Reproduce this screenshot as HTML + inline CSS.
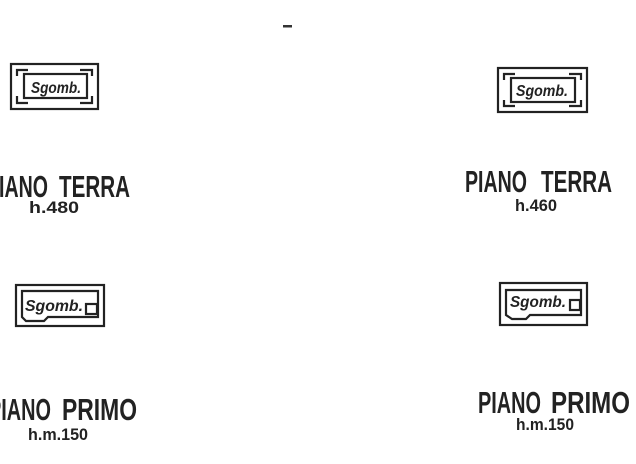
<!DOCTYPE html>
<html><head><meta charset="utf-8"><style>
html,body{margin:0;padding:0;background:#fff;width:636px;height:464px;overflow:hidden}
svg{display:block}
text{font-family:"Liberation Sans Narrow","Liberation Sans",sans-serif;font-weight:bold;fill:#222}
.s{font-style:italic}
</style></head><body>
<svg width="636" height="464" viewBox="0 0 636 464" xmlns="http://www.w3.org/2000/svg">
<rect x="283" y="25" width="9" height="2.5" fill="#333"/>
<g fill="none" stroke="#222" stroke-width="2.2">
<rect x="11" y="64" width="87" height="45"/>
<path d="M17 76 V70 H28 M92 76 V70 H80 M17 96 V103 H28 M92 96 V103 H80"/>
<rect x="24" y="74" width="63" height="24"/>
</g>
<text class="s" x="31" y="93" font-size="16" textLength="50" lengthAdjust="spacingAndGlyphs">Sgomb.</text>
<g fill="none" stroke="#222" stroke-width="2.2">
<rect x="498" y="68" width="89" height="44"/>
<path d="M504 80 V74 H515 M581 80 V74 H569 M504 100 V106 H515 M581 100 V106 H569"/>
<rect x="511" y="78" width="64" height="24"/>
</g>
<text class="s" x="516" y="96" font-size="16" textLength="52" lengthAdjust="spacingAndGlyphs">Sgomb.</text>
<g fill="none" stroke="#222" stroke-width="2.2">
<rect x="16" y="285" width="88" height="41"/>
<path d="M22 291 H98 V317 H48 L44 321 H26 L22 317 Z"/>
<rect x="86" y="304" width="11" height="10"/>
</g>
<text class="s" x="25" y="311" font-size="16" textLength="58" lengthAdjust="spacingAndGlyphs">Sgomb.</text>
<g fill="none" stroke="#222" stroke-width="2.2">
<rect x="500" y="283" width="87" height="42"/>
<path d="M506 290 H581 V315 H530 L526 319 H512 L506 315 Z"/>
<rect x="570" y="300" width="10" height="10"/>
</g>
<text class="s" x="510" y="307" font-size="16" textLength="56" lengthAdjust="spacingAndGlyphs">Sgomb.</text>

<text x="-14" y="197" font-size="31" textLength="62" lengthAdjust="spacingAndGlyphs">PIANO</text>
<text x="59" y="197" font-size="31" textLength="71" lengthAdjust="spacingAndGlyphs">TERRA</text>
<text x="29" y="213" font-size="17" textLength="50" lengthAdjust="spacingAndGlyphs">h.480</text>
<text x="465" y="192" font-size="31" textLength="62" lengthAdjust="spacingAndGlyphs">PIANO</text>
<text x="541" y="192" font-size="31" textLength="71" lengthAdjust="spacingAndGlyphs">TERRA</text>
<text x="515" y="211" font-size="17" textLength="42" lengthAdjust="spacingAndGlyphs">h.460</text>
<text x="-12" y="420" font-size="31" textLength="63" lengthAdjust="spacingAndGlyphs">PIANO</text>
<text x="62" y="420" font-size="31" textLength="75" lengthAdjust="spacingAndGlyphs">PRIMO</text>
<text x="28" y="440" font-size="17" textLength="60" lengthAdjust="spacingAndGlyphs">h.m.150</text>
<text x="478" y="413" font-size="31" textLength="63" lengthAdjust="spacingAndGlyphs">PIANO</text>
<text x="551" y="413" font-size="31" textLength="79" lengthAdjust="spacingAndGlyphs">PRIMO</text>
<text x="516" y="430" font-size="17" textLength="58" lengthAdjust="spacingAndGlyphs">h.m.150</text>
</svg>
</body></html>
